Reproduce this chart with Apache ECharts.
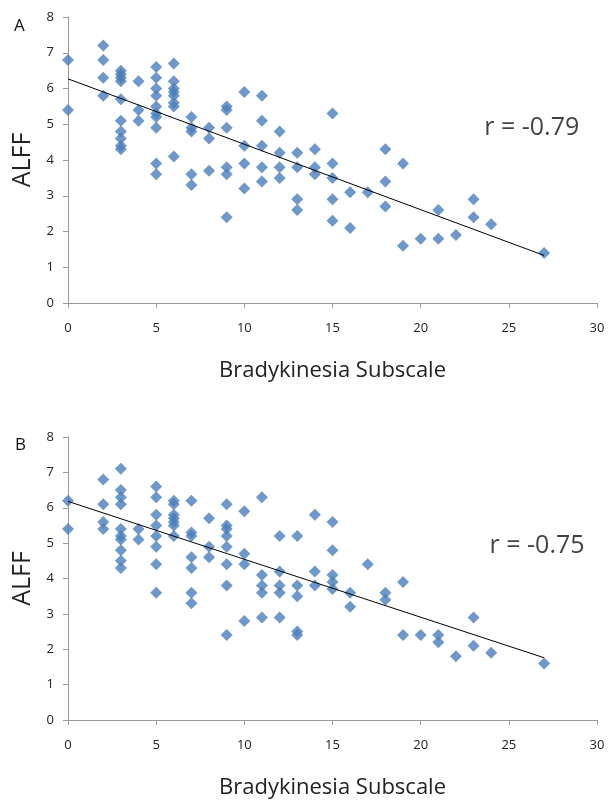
<!DOCTYPE html>
<html><head><meta charset="utf-8">
<script src="https://cdn.jsdelivr.net/npm/echarts@6/dist/echarts.min.js"></script>
<style>html,body{margin:0;padding:0;background:#fff}#c{width:608px;height:800px}</style>
</head><body><div id="c"></div>
<script>
// Panel A data
const aScore = [0,0, 2,2,2,2, 3,3,3,3,3,3,3,3,3,3, 4,4,4, 5,5,5,5,5,5,5,5,5,5, 6,6,6,6,6,6,6,6, 7,7,7,7,7, 8,8,8, 9,9,9,9,9,9, 10,10,10,10, 11,11,11,11,11, 12,12,12,12, 13,13,13,13, 14,14,14, 15,15,15,15,15, 16,16, 17, 18,18,18, 19,19, 20, 21,21, 22, 23,23, 24, 27];
const aAlff  = [6.8,5.4, 7.2,6.8,6.3,5.8, 6.5,6.4,6.3,6.2,5.7,5.1,4.8,4.6,4.4,4.3, 6.2,5.4,5.1, 6.6,6.3,6.0,5.8,5.5,5.3,5.2,4.9,3.9,3.6, 6.7,6.2,6.0,5.9,5.8,5.6,5.5,4.1, 5.2,4.9,4.8,3.6,3.3, 4.9,4.6,3.7, 5.5,5.4,4.9,3.8,3.6,2.4, 5.9,4.4,3.9,3.2, 5.8,5.1,4.4,3.8,3.4, 4.8,4.2,3.8,3.5, 4.2,3.8,2.9,2.6, 4.3,3.8,3.6, 5.3,3.9,3.5,2.9,2.3, 3.1,2.1, 3.1, 4.3,3.4,2.7, 3.9,1.6, 1.8, 2.6,1.8, 1.9, 2.9,2.4, 2.2, 1.4];
const aTrendX = [0, 27];
const aTrendY = [6.27, 1.33];
const aLabel = 'r = -0.79';

// Panel B data
const bScore = [0,0, 2,2,2,2, 3,3,3,3,3,3,3,3,3,3, 4,4, 5,5,5,5,5,5,5,5, 6,6,6,6,6,6,6, 7,7,7,7,7,7,7, 8,8,8, 9,9,9,9,9,9,9,9, 10,10,10,10, 11,11,11,11,11, 12,12,12,12,12, 13,13,13,13,13, 14,14,14, 15,15,15,15,15, 16,16, 17, 18,18, 19,19, 20, 21,21, 22, 23,23, 24, 27];
const bAlff  = [6.2,5.4, 6.8,6.1,5.6,5.4, 7.1,6.5,6.3,6.1,5.4,5.2,5.1,4.8,4.5,4.3, 5.4,5.1, 6.6,6.3,5.8,5.5,5.2,4.9,4.4,3.6, 6.2,6.1,5.8,5.7,5.6,5.5,5.2, 6.2,5.3,5.2,4.6,4.3,3.6,3.3, 5.7,4.9,4.6, 6.1,5.5,5.4,5.2,4.9,4.4,3.8,2.4, 5.9,4.7,4.4,2.8, 6.3,4.1,3.8,3.6,2.9, 5.2,4.2,3.8,3.6,2.9, 5.2,3.8,3.5,2.5,2.4, 5.8,4.2,3.8, 5.6,4.8,4.1,3.9,3.7, 3.6,3.2, 4.4, 3.6,3.4, 3.9,2.4, 2.4, 2.4,2.2, 1.8, 2.9,2.1, 1.9, 1.6];
const bTrendX = [0, 27];
const bTrendY = [6.18, 1.76];
const bLabel = 'r = -0.75';

const xTicks = [0,5,10,15,20,25,30];
const yTicks = [0,1,2,3,4,5,6,7,8];
const xTitle = 'Bradykinesia Subscale';
const yTitle = 'ALFF';
const panelNames = ['A','B'];

const FONT = "'Open Sans', 'Liberation Sans', sans-serif";
const zip = (xs, ys) => xs.map((x, i) => [x, ys[i]]);

function xAxis(gi) {
  return {
    type: 'value', gridIndex: gi, min: xTicks[0], max: xTicks[xTicks.length-1], interval: 5,
    name: xTitle, nameLocation: 'middle', nameGap: 57,
    nameTextStyle: {fontFamily: FONT, fontSize: 22, color: '#222'},
    axisLine: {show: true, lineStyle: {color: '#9a9a9a', width: 1}},
    axisTick: {show: true, inside: false, length: 5, lineStyle: {color: '#9a9a9a'}},
    axisLabel: {fontFamily: FONT, fontSize: 13, color: '#222', margin: 19},
    splitLine: {show: false}
  };
}
function yAxis(gi) {
  return {
    type: 'value', gridIndex: gi, min: yTicks[0], max: yTicks[yTicks.length-1], interval: 1,
    name: yTitle, nameLocation: 'middle', nameGap: 32, nameRotate: 90,
    nameTextStyle: {fontFamily: FONT, fontSize: 25, color: '#222'},
    axisLine: {show: true, lineStyle: {color: '#9a9a9a', width: 1}},
    axisTick: {show: true, inside: false, length: 5, lineStyle: {color: '#9a9a9a'}},
    axisLabel: {fontFamily: FONT, fontSize: 13, color: '#222', margin: 14},
    splitLine: {show: false}
  };
}
const scatterStyle = {color: '#4a7ebb'};
function scatter(gi, xs, ys) {
  return {type: 'scatter', xAxisIndex: gi, yAxisIndex: gi, data: zip(xs, ys),
    symbol: 'diamond', symbolSize: 12, itemStyle: scatterStyle, z: 2};
}
function trend(gi, xs, ys) {
  return {type: 'line', xAxisIndex: gi, yAxisIndex: gi, data: zip(xs, ys),
    symbol: 'none', lineStyle: {color: '#000', width: 1}, z: 3, silent: true};
}
function rLabel(gi, text) {
  return {type: 'scatter', xAxisIndex: gi, yAxisIndex: gi, data: [[gi === 0 ? 26.3 : 26.6, gi === 0 ? 4.9 : 4.93]],
    symbolSize: 0, silent: true,
    label: {show: true, formatter: text, position: 'inside', fontFamily: FONT, fontSize: 25, color: '#111'}};
}

const chart = echarts.init(document.getElementById('c'), null, {renderer: 'canvas'});
chart.setOption({
  backgroundColor: '#fff',
  animation: false,
  grid: [
    {left: 68, top: 17, width: 529, height: 286},
    {left: 68, top: 437, width: 529, height: 285}
  ],
  xAxis: [xAxis(0), xAxis(1)],
  yAxis: [yAxis(0), yAxis(1)],
  graphic: [
    {type: 'text', left: 14, top: 18, style: {text: panelNames[0], fontFamily: FONT, fontSize: 17, fill: '#111'}},
    {type: 'text', left: 15, top: 437, style: {text: panelNames[1], fontFamily: FONT, fontSize: 17, fill: '#111'}}
  ],
  series: [
    scatter(0, aScore, aAlff), trend(0, aTrendX, aTrendY), rLabel(0, aLabel),
    scatter(1, bScore, bAlff), trend(1, bTrendX, bTrendY), rLabel(1, bLabel)
  ]
});
</script></body></html>
